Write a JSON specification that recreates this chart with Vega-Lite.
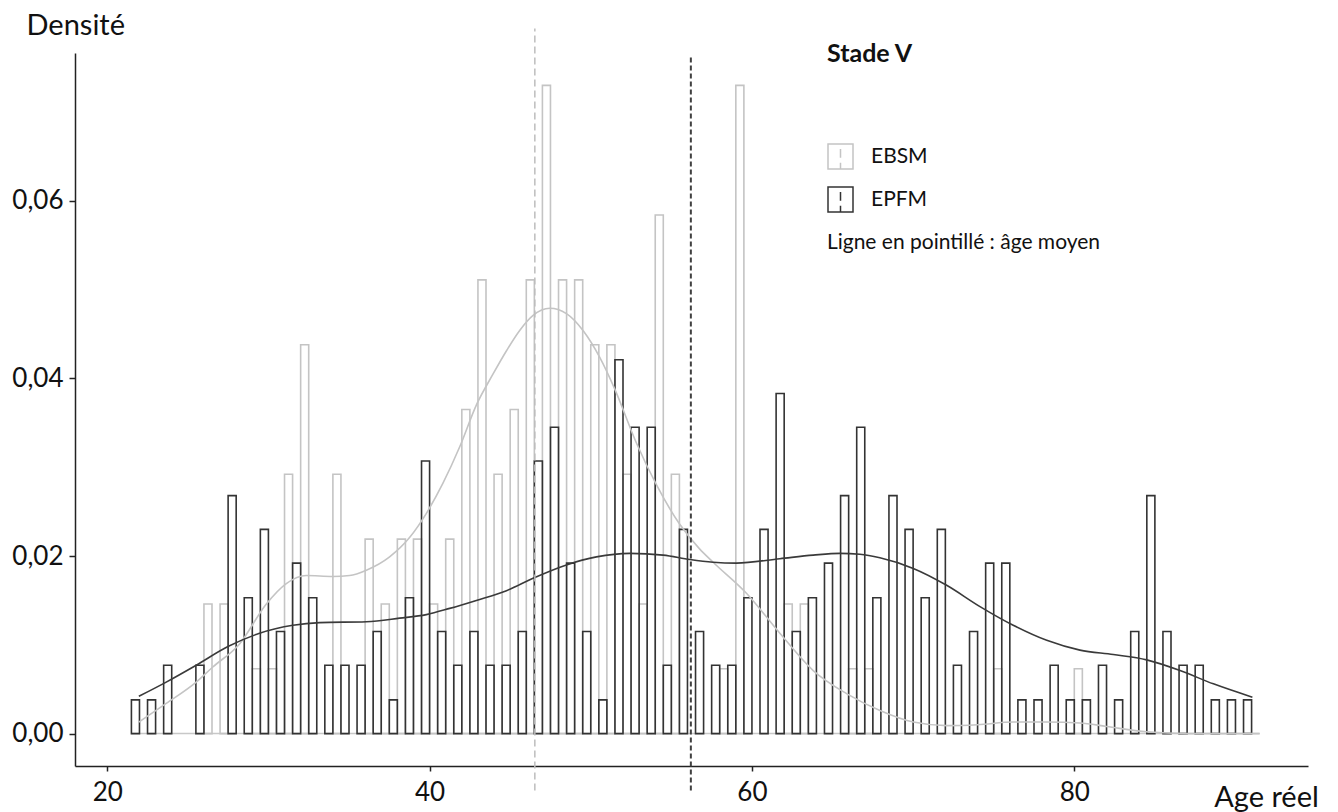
{
 "$schema": "https://vega.github.io/schema/vega-lite/v6.json",
 "width": 1233,
 "height": 713,
 "autosize": {"type": "none"},
 "padding": {"left": 75, "top": 53, "right": 30, "bottom": 46},
 "background": "white",
 "config": {"view": {"stroke": null}, "font": "Lato"},
 "datasets": {
  "bars": [
   {"series":"EBSM","bin_start":26,"bin_end":26.5,"density":0.0146},
   {"series":"EBSM","bin_start":27,"bin_end":27.5,"density":0.0146},
   {"series":"EBSM","bin_start":29,"bin_end":29.5,"density":0.0073},
   {"series":"EBSM","bin_start":30,"bin_end":30.5,"density":0.0073},
   {"series":"EBSM","bin_start":31,"bin_end":31.5,"density":0.0292},
   {"series":"EBSM","bin_start":32,"bin_end":32.5,"density":0.0438},
   {"series":"EBSM","bin_start":34,"bin_end":34.5,"density":0.0292},
   {"series":"EBSM","bin_start":36,"bin_end":36.5,"density":0.0219},
   {"series":"EBSM","bin_start":37,"bin_end":37.5,"density":0.0146},
   {"series":"EBSM","bin_start":38,"bin_end":38.5,"density":0.0219},
   {"series":"EBSM","bin_start":39,"bin_end":39.5,"density":0.0219},
   {"series":"EBSM","bin_start":40,"bin_end":40.5,"density":0.0146},
   {"series":"EBSM","bin_start":41,"bin_end":41.5,"density":0.0219},
   {"series":"EBSM","bin_start":42,"bin_end":42.5,"density":0.0365},
   {"series":"EBSM","bin_start":43,"bin_end":43.5,"density":0.0511},
   {"series":"EBSM","bin_start":44,"bin_end":44.5,"density":0.0292},
   {"series":"EBSM","bin_start":45,"bin_end":45.5,"density":0.0365},
   {"series":"EBSM","bin_start":46,"bin_end":46.5,"density":0.0511},
   {"series":"EBSM","bin_start":47,"bin_end":47.5,"density":0.0730},
   {"series":"EBSM","bin_start":48,"bin_end":48.5,"density":0.0511},
   {"series":"EBSM","bin_start":49,"bin_end":49.5,"density":0.0511},
   {"series":"EBSM","bin_start":50,"bin_end":50.5,"density":0.0438},
   {"series":"EBSM","bin_start":51,"bin_end":51.5,"density":0.0438},
   {"series":"EBSM","bin_start":52,"bin_end":52.5,"density":0.0292},
   {"series":"EBSM","bin_start":53,"bin_end":53.5,"density":0.0146},
   {"series":"EBSM","bin_start":54,"bin_end":54.5,"density":0.0584},
   {"series":"EBSM","bin_start":55,"bin_end":55.5,"density":0.0292},
   {"series":"EBSM","bin_start":58,"bin_end":58.5,"density":0.0073},
   {"series":"EBSM","bin_start":59,"bin_end":59.5,"density":0.0730},
   {"series":"EBSM","bin_start":62,"bin_end":62.5,"density":0.0146},
   {"series":"EBSM","bin_start":63,"bin_end":63.5,"density":0.0146},
   {"series":"EBSM","bin_start":66,"bin_end":66.5,"density":0.0073},
   {"series":"EBSM","bin_start":67,"bin_end":67.5,"density":0.0073},
   {"series":"EBSM","bin_start":75,"bin_end":75.5,"density":0.0073},
   {"series":"EBSM","bin_start":80,"bin_end":80.5,"density":0.0073},
   {"series":"EPFM","bin_start":21.5,"bin_end":22,"density":0.0038},
   {"series":"EPFM","bin_start":22.5,"bin_end":23,"density":0.0038},
   {"series":"EPFM","bin_start":23.5,"bin_end":24,"density":0.0077},
   {"series":"EPFM","bin_start":25.5,"bin_end":26,"density":0.0077},
   {"series":"EPFM","bin_start":27.5,"bin_end":28,"density":0.0268},
   {"series":"EPFM","bin_start":28.5,"bin_end":29,"density":0.0153},
   {"series":"EPFM","bin_start":29.5,"bin_end":30,"density":0.0230},
   {"series":"EPFM","bin_start":30.5,"bin_end":31,"density":0.0115},
   {"series":"EPFM","bin_start":31.5,"bin_end":32,"density":0.0192},
   {"series":"EPFM","bin_start":32.5,"bin_end":33,"density":0.0153},
   {"series":"EPFM","bin_start":33.5,"bin_end":34,"density":0.0077},
   {"series":"EPFM","bin_start":34.5,"bin_end":35,"density":0.0077},
   {"series":"EPFM","bin_start":35.5,"bin_end":36,"density":0.0077},
   {"series":"EPFM","bin_start":36.5,"bin_end":37,"density":0.0115},
   {"series":"EPFM","bin_start":37.5,"bin_end":38,"density":0.0038},
   {"series":"EPFM","bin_start":38.5,"bin_end":39,"density":0.0153},
   {"series":"EPFM","bin_start":39.5,"bin_end":40,"density":0.0307},
   {"series":"EPFM","bin_start":40.5,"bin_end":41,"density":0.0115},
   {"series":"EPFM","bin_start":41.5,"bin_end":42,"density":0.0077},
   {"series":"EPFM","bin_start":42.5,"bin_end":43,"density":0.0115},
   {"series":"EPFM","bin_start":43.5,"bin_end":44,"density":0.0077},
   {"series":"EPFM","bin_start":44.5,"bin_end":45,"density":0.0077},
   {"series":"EPFM","bin_start":45.5,"bin_end":46,"density":0.0115},
   {"series":"EPFM","bin_start":46.5,"bin_end":47,"density":0.0307},
   {"series":"EPFM","bin_start":47.5,"bin_end":48,"density":0.0345},
   {"series":"EPFM","bin_start":48.5,"bin_end":49,"density":0.0192},
   {"series":"EPFM","bin_start":49.5,"bin_end":50,"density":0.0115},
   {"series":"EPFM","bin_start":50.5,"bin_end":51,"density":0.0038},
   {"series":"EPFM","bin_start":51.5,"bin_end":52,"density":0.0421},
   {"series":"EPFM","bin_start":52.5,"bin_end":53,"density":0.0345},
   {"series":"EPFM","bin_start":53.5,"bin_end":54,"density":0.0345},
   {"series":"EPFM","bin_start":54.5,"bin_end":55,"density":0.0077},
   {"series":"EPFM","bin_start":55.5,"bin_end":56,"density":0.0230},
   {"series":"EPFM","bin_start":56.5,"bin_end":57,"density":0.0115},
   {"series":"EPFM","bin_start":57.5,"bin_end":58,"density":0.0077},
   {"series":"EPFM","bin_start":58.5,"bin_end":59,"density":0.0077},
   {"series":"EPFM","bin_start":59.5,"bin_end":60,"density":0.0153},
   {"series":"EPFM","bin_start":60.5,"bin_end":61,"density":0.0230},
   {"series":"EPFM","bin_start":61.5,"bin_end":62,"density":0.0383},
   {"series":"EPFM","bin_start":62.5,"bin_end":63,"density":0.0115},
   {"series":"EPFM","bin_start":63.5,"bin_end":64,"density":0.0153},
   {"series":"EPFM","bin_start":64.5,"bin_end":65,"density":0.0192},
   {"series":"EPFM","bin_start":65.5,"bin_end":66,"density":0.0268},
   {"series":"EPFM","bin_start":66.5,"bin_end":67,"density":0.0345},
   {"series":"EPFM","bin_start":67.5,"bin_end":68,"density":0.0153},
   {"series":"EPFM","bin_start":68.5,"bin_end":69,"density":0.0268},
   {"series":"EPFM","bin_start":69.5,"bin_end":70,"density":0.0230},
   {"series":"EPFM","bin_start":70.5,"bin_end":71,"density":0.0153},
   {"series":"EPFM","bin_start":71.5,"bin_end":72,"density":0.0230},
   {"series":"EPFM","bin_start":72.5,"bin_end":73,"density":0.0077},
   {"series":"EPFM","bin_start":73.5,"bin_end":74,"density":0.0115},
   {"series":"EPFM","bin_start":74.5,"bin_end":75,"density":0.0192},
   {"series":"EPFM","bin_start":75.5,"bin_end":76,"density":0.0192},
   {"series":"EPFM","bin_start":76.5,"bin_end":77,"density":0.0038},
   {"series":"EPFM","bin_start":77.5,"bin_end":78,"density":0.0038},
   {"series":"EPFM","bin_start":78.5,"bin_end":79,"density":0.0077},
   {"series":"EPFM","bin_start":79.5,"bin_end":80,"density":0.0038},
   {"series":"EPFM","bin_start":80.5,"bin_end":81,"density":0.0038},
   {"series":"EPFM","bin_start":81.5,"bin_end":82,"density":0.0077},
   {"series":"EPFM","bin_start":82.5,"bin_end":83,"density":0.0038},
   {"series":"EPFM","bin_start":83.5,"bin_end":84,"density":0.0115},
   {"series":"EPFM","bin_start":84.5,"bin_end":85,"density":0.0268},
   {"series":"EPFM","bin_start":85.5,"bin_end":86,"density":0.0115},
   {"series":"EPFM","bin_start":86.5,"bin_end":87,"density":0.0077},
   {"series":"EPFM","bin_start":87.5,"bin_end":88,"density":0.0077},
   {"series":"EPFM","bin_start":88.5,"bin_end":89,"density":0.0038},
   {"series":"EPFM","bin_start":89.5,"bin_end":90,"density":0.0038},
   {"series":"EPFM","bin_start":90.5,"bin_end":91,"density":0.0038}
  ],
  "curve_ebsm": [
   {"age":21.96,"density":0.0013},{"age":23.66,"density":0.0034},{"age":25.52,"density":0.0058},
   {"age":26.55,"density":0.0075},{"age":28.21,"density":0.0101},{"age":29.87,"density":0.0146},
   {"age":31.11,"density":0.0169},{"age":32.35,"density":0.0178},{"age":34.0,"density":0.0177},
   {"age":35.04,"density":0.0178},{"age":36.08,"density":0.0184},{"age":37.52,"density":0.0199},
   {"age":38.77,"density":0.0221},{"age":39.8,"density":0.0248},{"age":40.83,"density":0.0282},
   {"age":41.87,"density":0.0323},{"age":42.9,"density":0.0370},{"age":43.94,"density":0.0405},
   {"age":44.8,"density":0.0432},{"age":45.59,"density":0.0454},{"age":46.42,"density":0.0471},
   {"age":47.46,"density":0.0479},{"age":48.49,"density":0.0473},{"age":49.52,"density":0.0454},
   {"age":50.55,"density":0.0424},{"age":51.49,"density":0.0388},{"age":52.84,"density":0.0327},
   {"age":54.08,"density":0.0280},{"age":55.51,"density":0.0236},{"age":56.75,"density":0.0208},
   {"age":57.59,"density":0.0193},{"age":59.66,"density":0.0158},{"age":61.73,"density":0.0113},
   {"age":63.8,"density":0.0071},{"age":65.87,"density":0.0045},{"age":67.94,"density":0.0026},
   {"age":70.01,"density":0.0013},{"age":72.08,"density":0.0009},{"age":74.0,"density":0.0010},
   {"age":76.21,"density":0.0013},{"age":78.3,"density":0.0013},{"age":80.35,"density":0.0012},
   {"age":82.0,"density":0.0008},{"age":84.49,"density":0.0002},{"age":87.0,"density":0.0},
   {"age":91.5,"density":0.0}
  ],
  "curve_epfm": [
   {"age":21.96,"density":0.0042},{"age":23.66,"density":0.0058},{"age":25.52,"density":0.0077},
   {"age":27.49,"density":0.0098},{"age":29.45,"density":0.0113},{"age":31.52,"density":0.0122},
   {"age":33.18,"density":0.0125},{"age":36.08,"density":0.0126},{"age":38.14,"density":0.0130},
   {"age":39.8,"density":0.0134},{"age":41.25,"density":0.0141},{"age":42.9,"density":0.0150},
   {"age":44.77,"density":0.0161},{"age":46.42,"density":0.0175},{"age":48.49,"density":0.0190},
   {"age":50.35,"density":0.0199},{"age":52.42,"density":0.0203},{"age":54.49,"density":0.0201},
   {"age":56.15,"density":0.0196},{"age":57.59,"density":0.0193},{"age":59.04,"density":0.0192},
   {"age":61.73,"density":0.0197},{"age":63.8,"density":0.0201},{"age":65.46,"density":0.0203},
   {"age":66.7,"density":0.0202},{"age":67.94,"density":0.0198},{"age":70.01,"density":0.0186},
   {"age":72.08,"density":0.0167},{"age":74.15,"density":0.0143},{"age":76.21,"density":0.0122},
   {"age":78.29,"density":0.0105},{"age":80.35,"density":0.0094},{"age":82.42,"density":0.0089},
   {"age":84.49,"density":0.0083},{"age":86.56,"density":0.0071},{"age":88.63,"density":0.0056},
   {"age":91.05,"density":0.0041}
  ],
  "means": [
   {"series":"EBSM","mean_age":46.53},
   {"series":"EPFM","mean_age":56.21}
  ],
  "baseline": [
   {"start":21.5,"end":91.5}
  ]
 },
 "layer": [
  {
   "data": {"name": "baseline"},
   "mark": {"type": "rule", "color": "#c8c8c8", "strokeWidth": 1.5},
   "encoding": {
    "x": {"field": "start", "type": "quantitative"},
    "x2": {"field": "end"},
    "y": {"datum": 0}
   }
  },
  {
   "data": {"name": "bars"},
   "mark": {"type": "rect", "filled": false, "strokeWidth": 1.6},
   "encoding": {
    "x": {
     "field": "bin_start", "type": "quantitative",
     "scale": {"domain": [18, 94.5], "nice": false, "zero": false},
     "axis": {
      "values": [20, 40, 60, 80], "title": "Age réel", "grid": false,
      "titleX": 1191, "titleY": 31, "titleAlign": "center", "titleBaseline": "middle",
      "titleFontSize": 29, "titleFontWeight": "normal", "titleColor": "#111",
      "labelFontSize": 26, "labelColor": "#111", "labelPadding": 8, "labelFlush": false,
      "tickSize": 5, "tickWidth": 1.5, "tickColor": "#222",
      "domainColor": "#222", "domainWidth": 1.5
     }
    },
    "x2": {"field": "bin_end"},
    "y": {
     "field": "density", "type": "quantitative",
     "scale": {"domain": [-0.00365, 0.07665], "nice": false, "zero": false},
     "axis": {
      "values": [0, 0.02, 0.04, 0.06], "grid": false,
      "labelExpr": "replace(format(datum.value, '.2f'), '.', ',')",
      "title": "Densité", "titleAngle": 0, "titleX": -49, "titleY": -28,
      "titleAlign": "left", "titleBaseline": "middle",
      "titleFontSize": 29, "titleFontWeight": "normal", "titleColor": "#111",
      "labelFontSize": 26, "labelColor": "#111", "labelPadding": 6,
      "tickSize": 6, "tickWidth": 1.5, "tickColor": "#222",
      "domainColor": "#222", "domainWidth": 1.5
     }
    },
    "y2": {"datum": 0},
    "stroke": {
     "field": "series", "type": "nominal",
     "scale": {"domain": ["EBSM", "EPFM"], "range": ["#c4c4c4", "#333333"]},
     "legend": {
      "title": "Stade V", "orient": "none", "legendX": 752, "legendY": -11,
      "direction": "vertical", "padding": 0,
      "titleFontSize": 25, "titleFontWeight": "bold", "titleColor": "#111", "titlePadding": 76,
      "labelFontSize": 21, "labelColor": "#111", "labelOffset": 17,
      "symbolType": "M-1,-1H1V1H-1Z M0,-0.6V0.1 M0,0.5V1",
      "symbolSize": 625, "symbolStrokeWidth": 1.5, "symbolFillColor": "transparent",
      "rowPadding": 12
     }
    }
   }
  },
  {
   "data": {"name": "curve_ebsm"},
   "mark": {"type": "line", "color": "#c4c4c4", "strokeWidth": 1.6, "interpolate": "monotone"},
   "encoding": {
    "x": {"field": "age", "type": "quantitative"},
    "y": {"field": "density", "type": "quantitative"}
   }
  },
  {
   "data": {"name": "curve_epfm"},
   "mark": {"type": "line", "color": "#3a3a3a", "strokeWidth": 1.6, "interpolate": "monotone"},
   "encoding": {
    "x": {"field": "age", "type": "quantitative"},
    "y": {"field": "density", "type": "quantitative"}
   }
  },
  {
   "data": {"name": "means"},
   "transform": [{"filter": "datum.series === 'EBSM'"}],
   "mark": {"type": "rule", "color": "#bdbdbd", "strokeWidth": 1.5, "strokeDash": [7, 4]},
   "encoding": {
    "x": {"field": "mean_age", "type": "quantitative"},
    "y": {"datum": -0.0064},
    "y2": {"datum": 0.0794}
   }
  },
  {
   "data": {"name": "means"},
   "transform": [{"filter": "datum.series === 'EPFM'"}],
   "mark": {"type": "rule", "color": "#404040", "strokeWidth": 2, "strokeDash": [5, 3]},
   "encoding": {
    "x": {"field": "mean_age", "type": "quantitative"},
    "y": {"datum": -0.0064},
    "y2": {"datum": 0.0762}
   }
  },
  {
   "data": {"values": [{}]},
   "mark": {"type": "text", "align": "left", "baseline": "middle", "fontSize": 21, "color": "#111"},
   "encoding": {
    "x": {"datum": 64.65},
    "y": {"datum": 0.0552},
    "text": {"value": "Ligne en pointillé : âge moyen"}
   }
  }
 ]
}
